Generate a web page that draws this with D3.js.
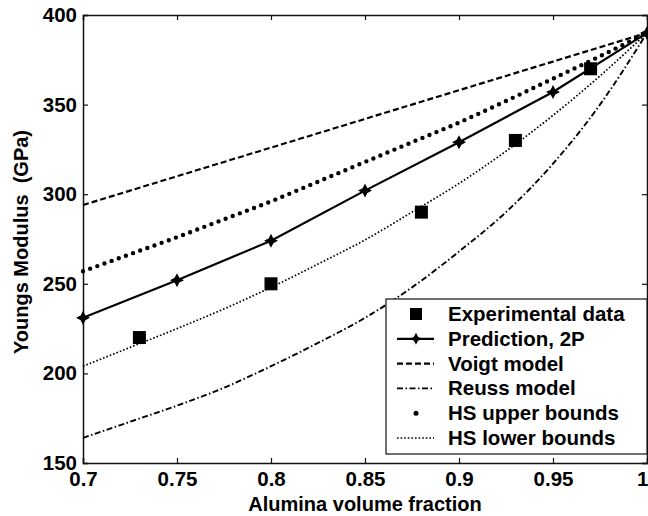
<!DOCTYPE html>
<html>
<head>
<meta charset="utf-8">
<script src="https://cdn.jsdelivr.net/npm/d3@7"></script>
<style>
  body { margin: 0; background: #fff; }
  text { font-family: "Liberation Sans", Arial, sans-serif; font-weight: bold; fill: #000; }
</style>
</head>
<body>
<div id="chart"></div>
<script>
// alumina volume fraction grid used for the model curves
var fracGrid = [0.7, 0.725, 0.75, 0.775, 0.8, 0.825, 0.85, 0.875, 0.9, 0.925, 0.95, 0.975, 1.0];
var voigt    = [294, 302, 310, 318, 326, 334, 342, 350, 358, 366, 374, 382, 390];
var reuss    = [164, 173, 182, 192, 204, 217, 231, 248, 268, 290, 317, 350, 390];
var hsUpper  = [257, 266.5, 276, 286, 296, 307, 318, 329, 340, 352, 364.5, 377, 390];
var hsLower  = [204, 214.5, 225, 236, 248, 261, 274.5, 290, 306, 324, 344, 366, 390];

// prediction 2P
var fracPred = [0.7, 0.75, 0.8, 0.85, 0.9, 0.95, 1.0];
var pred     = [231, 252, 274, 302, 329, 357, 390];

// experimental data
var fracExp = [0.73, 0.8, 0.88, 0.93, 0.97];
var expData = [220, 250, 290, 330, 370];

var xTicks = [0.7, 0.75, 0.8, 0.85, 0.9, 0.95, 1.0];
var xTickLabels = ["0.7", "0.75", "0.8", "0.85", "0.9", "0.95", "1"];
var yTicks = [150, 200, 250, 300, 350, 400];

var legendNames = ["Experimental data", "Prediction, 2P", "Voigt model", "Reuss model", "HS upper bounds", "HS lower bounds"];

chart()

function chart(){
    var W = 648, H = 516;
    var margin = {top: 15, right: 1, bottom: 53, left: 83},
        width = W - margin.left - margin.right,
        height = H - margin.top - margin.bottom;

    var svg = d3.select("#chart")
      .append("svg")
        .attr("width", W)
        .attr("height", H)
      .append("g")
        .attr("transform", "translate(" + margin.left + "," + margin.top + ")");

    var x = d3.scaleLinear().domain([0.7, 1.0]).range([0, width]);
    var y = d3.scaleLinear().domain([150, 400]).range([height, 0]);

    // axes with inward ticks, box style
    var xb = svg.append("g")
        .attr("transform", "translate(0," + height + ")")
        .call(d3.axisBottom(x).tickValues(xTicks).tickSize(-5).tickPadding(8)
            .tickFormat(function(d, i){ return xTickLabels[i]; }));
    var xt = svg.append("g")
        .call(d3.axisTop(x).tickValues(xTicks).tickSize(-5).tickFormat(""));
    var yl = svg.append("g")
        .call(d3.axisLeft(y).tickValues(yTicks).tickSize(-5).tickPadding(6));
    var yr = svg.append("g")
        .attr("transform", "translate(" + width + ",0)")
        .call(d3.axisRight(y).tickValues(yTicks).tickSize(-5).tickFormat(""));

    [xb, xt, yl, yr].forEach(function(g){
        g.selectAll("path.domain").attr("stroke", "#111").attr("stroke-width", 1.5);
        g.selectAll("line").attr("stroke", "#111").attr("stroke-width", 1.2);
        g.selectAll("text").style("font-size", "20.5px").style("font-family", "'Liberation Sans', Arial, sans-serif")
            .style("font-weight", "bold").attr("fill", "#000");
    });

    // last x label sits on the right edge, as in the original
    xb.selectAll(".tick text")
        .filter(function(d){ return d === 1.0; })
        .attr("text-anchor", "end")
        .attr("x", 1);

    // curves
    var line = d3.line()
        .x(function(d){ return x(d[0]); })
        .y(function(d){ return y(d[1]); })
        .curve(d3.curveMonotoneX);

    function pairs(xs, ys){ return xs.map(function(v, i){ return [v, ys[i]]; }); }

    var styles = {
        voigt:   {w: 2.2, dash: "6,3",           cap: "butt"},
        reuss:   {w: 1.9, dash: "6,2.5,1.5,2.5", cap: "butt"},
        hsUpper: {w: 4.4, dash: "0,7.6",         cap: "round"},
        hsLower: {w: 1.7, dash: "1.6,2",         cap: "butt"},
        pred:    {w: 2.2, dash: null,            cap: "butt"}
    };

    function drawLine(data, s){
        svg.append("path")
            .datum(data)
            .attr("d", line)
            .attr("fill", "none")
            .attr("stroke", "#000")
            .attr("stroke-width", s.w)
            .attr("stroke-linecap", s.cap)
            .attr("stroke-dasharray", s.dash);
    }

    drawLine(pairs(fracGrid, voigt), styles.voigt);
    drawLine(pairs(fracGrid, reuss), styles.reuss);
    drawLine(pairs(fracGrid, hsUpper), styles.hsUpper);
    drawLine(pairs(fracGrid, hsLower), styles.hsLower);

    svg.append("path")
        .datum(pairs(fracPred, pred))
        .attr("d", d3.line().x(function(d){ return x(d[0]); }).y(function(d){ return y(d[1]); }))
        .attr("fill", "none")
        .attr("stroke", "#000")
        .attr("stroke-width", styles.pred.w);

    var star = "M0,-7L2.4,-2.4L7,0L2.4,2.4L0,7L-2.4,2.4L-7,0L-2.4,-2.4Z";

    svg.selectAll("predMarker")
        .data(pairs(fracPred, pred))
        .enter()
        .append("path")
            .attr("d", star)
            .attr("transform", function(d){ return "translate(" + x(d[0]) + "," + y(d[1]) + ")"; })
            .attr("fill", "#000");

    var sq = 13;
    svg.selectAll("expSquare")
        .data(pairs(fracExp, expData))
        .enter()
        .append("rect")
            .attr("x", function(d){ return x(d[0]) - sq / 2; })
            .attr("y", function(d){ return y(d[1]) - sq / 2; })
            .attr("width", sq)
            .attr("height", sq)
            .attr("fill", "#000");

    // axis titles
    svg.append("text")
        .attr("x", width / 2)
        .attr("y", height + 48)
        .attr("text-anchor", "middle")
        .style("font-size", "20px")
        .text("Alumina volume fraction");

    svg.append("text")
        .attr("transform", "translate(" + (28 - margin.left) + "," + (242 - margin.top) + ") rotate(-90)")
        .attr("text-anchor", "middle")
        .style("font-size", "20px")
        .attr("xml:space", "preserve")
        .text("Youngs Modulus  (GPa)");

    // legend
    var lg = svg.append("g").attr("transform", "translate(" + (386 - margin.left) + "," + (299 - margin.top) + ")");
    lg.append("rect")
        .attr("width", 261)
        .attr("height", 155)
        .attr("fill", "#fff")
        .attr("stroke", "#111")
        .attr("stroke-width", 1.2);

    var rows = lg.selectAll("legendRow")
        .data(legendNames)
        .enter()
        .append("g")
            .attr("transform", function(d, i){ return "translate(0," + (22 + i * 24.8) + ")"; });

    rows.append("text")
        .attr("x", 62)
        .attr("y", 0)
        .style("font-size", "20.5px")
        .text(function(d){ return d; });

    var ly = -7, lx1 = 11, lx2 = 48, lxc = 30;
    // experimental
    d3.select(rows.nodes()[0]).append("rect")
        .attr("x", lxc - 6).attr("y", ly - 6).attr("width", 12).attr("height", 12).attr("fill", "#000");
    // prediction
    var r1 = d3.select(rows.nodes()[1]);
    r1.append("line").attr("x1", lx1).attr("x2", lx2).attr("y1", ly).attr("y2", ly)
        .attr("stroke", "#000").attr("stroke-width", styles.pred.w);
    r1.append("path").attr("d", star).attr("transform", "translate(" + lxc + "," + ly + ") scale(0.85)").attr("fill", "#000");
    // voigt, reuss, hs lower
    [[2, styles.voigt], [3, styles.reuss], [5, styles.hsLower]].forEach(function(p){
        d3.select(rows.nodes()[p[0]]).append("line")
            .attr("x1", lx1).attr("x2", lx2).attr("y1", ly).attr("y2", ly)
            .attr("stroke", "#000")
            .attr("stroke-width", p[1].w)
            .attr("stroke-dasharray", p[1].dash);
    });
    // hs upper: single dot
    d3.select(rows.nodes()[4]).append("circle")
        .attr("cx", lxc).attr("cy", ly).attr("r", 2.5).attr("fill", "#000");
}
</script>
</body>
</html>
